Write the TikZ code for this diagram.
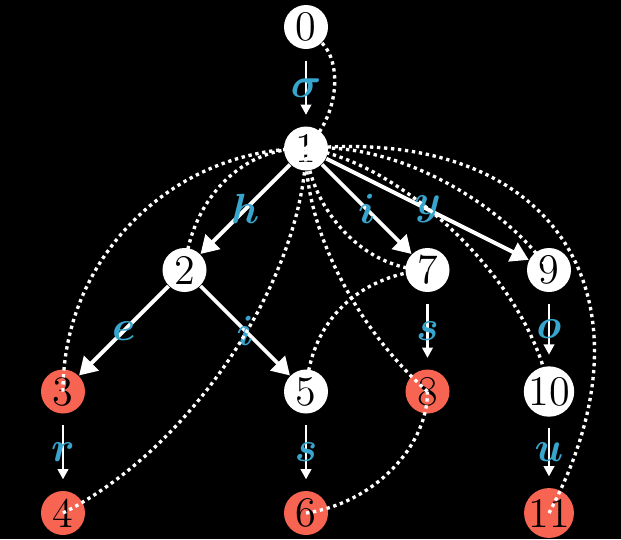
\documentclass[tikz,border=0pt]{standalone}
\usepackage{amsmath}
\usetikzlibrary{arrows.meta}
\definecolor{edgeblue}{RGB}{55,165,205}
\definecolor{hitred}{RGB}{248,100,82}

\begin{document}
\begin{tikzpicture}[
    state/.style={circle, fill=white, text=black, inner sep=0pt, minimum size=0.44cm,
                  font=\fontsize{12}{14}\selectfont},
    hit/.style={state, fill=hitred},
    trie/.style={white, line width=1.1pt, -{Triangle[length=5pt,width=5.8pt]}},
    chain/.style={white, line width=0.6pt, -{Triangle[length=2.9pt,width=3pt]},
                  shorten <=0.11cm, shorten >=0.11cm},
    fail/.style={white, line width=0.95pt, dash pattern=on 0.95pt off 1.05pt},
    sym/.style={text=edgeblue, font=\fontsize{13}{15}\selectfont}]
        \useasboundingbox (0,0) rectangle (6.21,-5.39);
        \fill[black] (0,0) rectangle (6.21,-5.39);

        % states on a grid: column, row
        \foreach \i/\c/\r/\kind in {
            0/2/0/state, 1/2/1/state, 2/1/2/state, 3/0/3/hit,
            4/0/4/hit, 5/2/3/state, 6/2/4/hit, 7/3/2/state,
            8/3/3/hit, 9/4/2/state, 10/4/3/state, 11/4/4/hit}
        {
            \pgfmathsetmacro{\x}{0.63+\c*1.215}
            \pgfmathsetmacro{\y}{-0.27-\r*1.215}
            \node[\kind] (n\i) at (\x,\y) {\i};
        }

        % trie edges
        \foreach \a/\b/\s in {0/1/\sigma, 3/4/r, 5/6/s, 7/8/s, 9/10/o, 10/11/u}
            \draw[chain] (n\a) -- node[sym] {$\boldsymbol{\s}$} (n\b);
        \foreach \a/\b/\s in {1/2/h, 2/3/e, 2/5/i, 1/7/i, 1/9/y}
            \draw[trie] (n\a) -- node[sym] {$\boldsymbol{\s}$} (n\b);

        % failure links
        \draw[fail] (n0) .. controls +(0.35,-0.35) and +(0.35,0.35) .. (n1.center);
        \draw[fail] (n2.center) .. controls +(0.07,0.73) and +(-0.62,0.02) .. (n1.center);
        \draw[fail] (n3.center) .. controls +(0,1.40) and +(-1.27,0) .. (n1.center);
        \draw[fail] (n4.center) .. controls +(1.37,0.70) and +(-0.02,-1.22) .. (n1.center);
        \draw[fail] (n5.center) .. controls +(0.05,0.80) and +(-0.58,-0.04) .. (n7.center);
        \draw[fail] (n6.center) .. controls +(0.68,0.10) and +(0,-0.55) .. (n8.center);
        \draw[fail] (n7.center) .. controls +(-0.63,0) and +(0.05,-0.62) .. (n1.center);
        \draw[fail] (n8.center) .. controls +(-0.68,0.60) and +(-0.02,-0.82) .. (n1.center);
        \draw[fail] (n9.center) .. controls +(-0.43,0.63) and +(0.93,0.08) .. (n1.center);
        \draw[fail] (n10.center) .. controls +(-0.18,1.10) and +(0.93,-0.12) .. (n1.center);
        \draw[fail] (n11.center) .. controls +(1.12,2.10) and +(2.55,0.23) .. (n1.center);
    \end{tikzpicture}
\end{document}
